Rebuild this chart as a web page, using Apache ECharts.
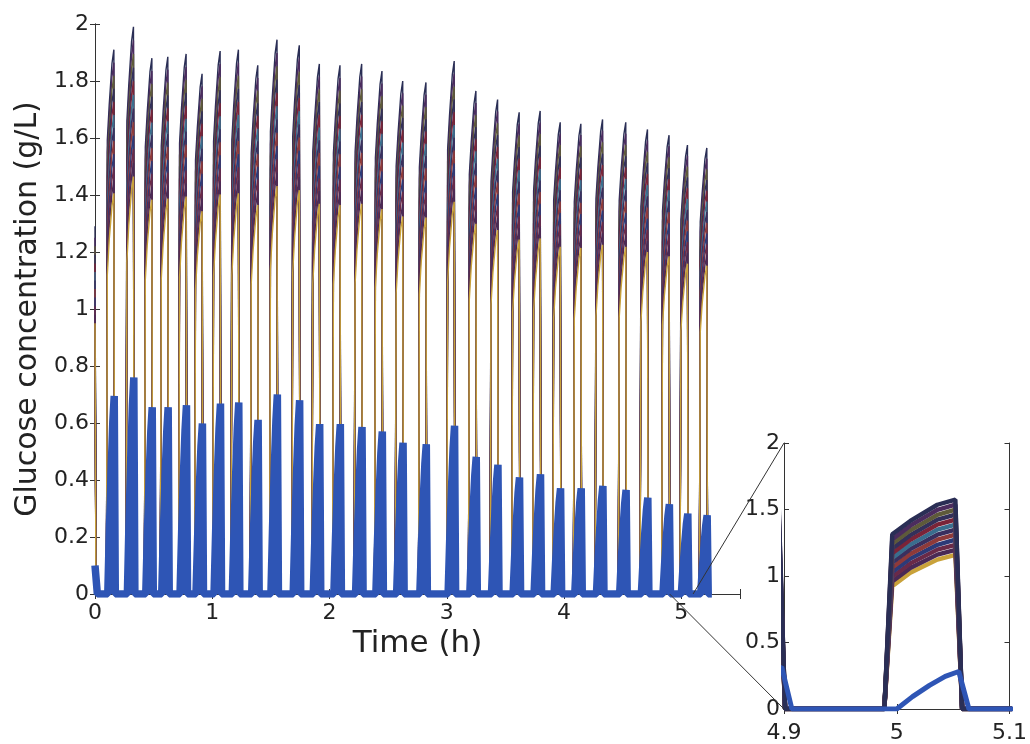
<!DOCTYPE html>
<html><head><meta charset="utf-8">
<script src="https://cdn.jsdelivr.net/npm/echarts@6/dist/echarts.min.js"></script>
<style>html,body{margin:0;padding:0;background:#fff}#c{width:1030px;height:744px}</style>
</head><body><div id="c"></div>
<script>
// ---- data ----
// end time (h) of each feeding pulse
const pulseEnd = [0.161,0.328,0.485,0.621,0.777,0.913,1.067,1.223,1.388,1.552,1.742,1.913,2.089,2.274,2.447,2.624,2.822,3.063,3.248,3.433,3.617,3.796,3.967,4.143,4.328,4.526,4.711,4.895,5.052,5.217];
// top envelope (g/L) of the thin curves at each pulse end
const pulseTop = [1.91,1.99,1.88,1.885,1.895,1.825,1.905,1.91,1.855,1.945,1.925,1.86,1.855,1.86,1.835,1.80,1.795,1.87,1.765,1.735,1.69,1.695,1.655,1.65,1.665,1.655,1.63,1.61,1.575,1.565];
// thick blue curve peak (g/L) at each pulse
const bluePeak = [0.695,0.76,0.655,0.655,0.662,0.598,0.668,0.672,0.611,0.70,0.68,0.596,0.596,0.586,0.57,0.531,0.525,0.59,0.481,0.453,0.409,0.42,0.371,0.371,0.379,0.365,0.338,0.315,0.282,0.276];
// shape of one pulse
const lineOffsets = [-0.063,-0.056,-0.040,-0.016,0,0.006];        // h relative to pulse end
const lineProfiles = [                                             // fraction of pulseTop at offsets 1..4
  [0.586,0.650,0.713,0.736],[0.609,0.673,0.737,0.760],[0.631,0.695,0.761,0.784],
  [0.654,0.718,0.784,0.808],[0.676,0.740,0.808,0.832],[0.699,0.763,0.832,0.856],
  [0.721,0.785,0.856,0.880],[0.744,0.808,0.880,0.904],[0.766,0.830,0.904,0.928],
  [0.789,0.853,0.927,0.952],[0.811,0.875,0.951,0.976],[0.834,0.898,0.975,1.000]];
const initLevels = [0.95,0.98,1.01,1.04,1.07,1.10,1.13,1.16,1.19,1.22,1.25,1.29];
const blueOffsets = [-0.052,-0.038,-0.023,-0.009,0.003,0.012];
const blueProfile = [0,0.33,0.63,0.87,1,0];
const blueInit = [[0,0.10],[0.02,0]];
const simEnd = 5.26;
const lineColors = ['#C9A23A','#4A2A55','#6A2A48','#2C3A78','#8E3A3A','#3A2F5E','#3A6E8E','#7A2438','#33305A','#5E5A3A','#4B2C5E','#2A2E55'];
const blueColor = '#2E55B5';
const yTicksMain = [0,2,0.2], xTicksMain = [0,5.5,1];
const yTicksInset = [0,2,0.5], xTicksInset = [4.9,5.1,0.1];

// ---- build series ----
function lineData(i){
  const d=[[0,initLevels[i]],[0.008,0]];
  pulseEnd.forEach((te,p)=>{
    d.push([te+lineOffsets[0],0]);
    for(let k=0;k<4;k++) d.push([te+lineOffsets[k+1], pulseTop[p]*lineProfiles[i][k]]);
    d.push([te+lineOffsets[5],0]);
  });
  d.push([simEnd,0]);
  return d;
}
function blueData(){
  const d=blueInit.slice();
  pulseEnd.forEach((te,p)=>{
    for(let k=0;k<blueOffsets.length;k++) d.push([te+blueOffsets[k], bluePeak[p]*blueProfile[k]]);
  });
  d.push([simEnd,0]);
  return d;
}
const FONT='DejaVu Sans';
const series=[];
[[0,0,1.4,7.5,true],[2,2,4.4,5,false]].forEach(([xi,yi,lw,bw,rev])=>{
  const idx=lineProfiles.map((_,i)=>i); if(rev) idx.reverse();
  idx.forEach(i=>series.push({type:'line',xAxisIndex:xi,yAxisIndex:yi,data:lineData(i),showSymbol:false,
    lineStyle:{color:lineColors[i],width:lw,join:'bevel'},silent:true,animation:false}));
  series.push({type:'line',xAxisIndex:xi,yAxisIndex:yi,data:blueData(),showSymbol:false,
    lineStyle:{color:blueColor,width:bw,join:'bevel'},silent:true,animation:false,z:3});
});
const axLine={show:true,lineStyle:{color:'#333',width:1}};
const tick={show:true,inside:true,length:5,lineStyle:{color:'#333'}};
const lbl=(m)=>({color:'#222',fontFamily:FONT,fontSize:22,margin:m});
function xAx(g,t,pos,show,extra){return Object.assign({type:'value',gridIndex:g,position:pos,min:t[0],max:t[1],interval:t[2],
  axisLine:axLine,axisTick:tick,splitLine:{show:false},axisLabel:Object.assign(lbl(8),{show:show})},extra||{});}
function yAx(g,t,pos,show,extra){return Object.assign({type:'value',gridIndex:g,position:pos,min:t[0],max:t[1],interval:t[2],
  axisLine:axLine,axisTick:tick,splitLine:{show:false},axisLabel:Object.assign(lbl(6),{show:show})},extra||{});}

const chart=echarts.init(document.getElementById('c'),null,{renderer:'canvas'});
chart.setOption({
  backgroundColor:'#fff',
  animation:false,
  grid:[{left:95,top:24,right:290,bottom:150},{left:784,top:443,right:16,bottom:29}],
  xAxis:[
    xAx(0,xTicksMain,'bottom',true,{name:'Time (h)',nameLocation:'middle',nameGap:34,
      nameTextStyle:{fontFamily:FONT,fontSize:31,color:'#222'},
      axisLabel:Object.assign(lbl(8),{formatter:v=>Number.isInteger(Math.round(v*1000)/1000)?String(v):''})}),
    xAx(0,xTicksMain,'top',false),
    xAx(1,xTicksInset,'bottom',true,{axisLabel:Object.assign(lbl(13),{})}),
    xAx(1,xTicksInset,'top',false)
  ],
  yAxis:[
    yAx(0,yTicksMain,'left',true,{name:'Glucose concentration (g/L)',nameLocation:'middle',nameGap:46,
      nameTextStyle:{fontFamily:FONT,fontSize:30,color:'#222'}}),
    yAx(0,yTicksMain,'right',false),
    yAx(1,yTicksInset,'left',true,{axisLabel:lbl(4)}),
    yAx(1,yTicksInset,'right',false)
  ],
  series:series
});
// zoom connector lines from the main plot to the inset corners
const a=chart.convertToPixel({xAxisIndex:0,yAxisIndex:0},[xTicksInset[0],0]);
const b=chart.convertToPixel({xAxisIndex:0,yAxisIndex:0},[xTicksInset[1],0]);
const c0=chart.convertToPixel({xAxisIndex:2,yAxisIndex:2},[xTicksInset[0],0]);
const c2=chart.convertToPixel({xAxisIndex:2,yAxisIndex:2},[xTicksInset[0],2]);
chart.setOption({graphic:[
  {type:'line',shape:{x1:a[0],y1:a[1],x2:c0[0],y2:c0[1]},style:{stroke:'#333',lineWidth:1},z:100},
  {type:'line',shape:{x1:b[0],y1:b[1],x2:c2[0],y2:c2[1]},style:{stroke:'#333',lineWidth:1},z:100}
]});
</script></body></html>
